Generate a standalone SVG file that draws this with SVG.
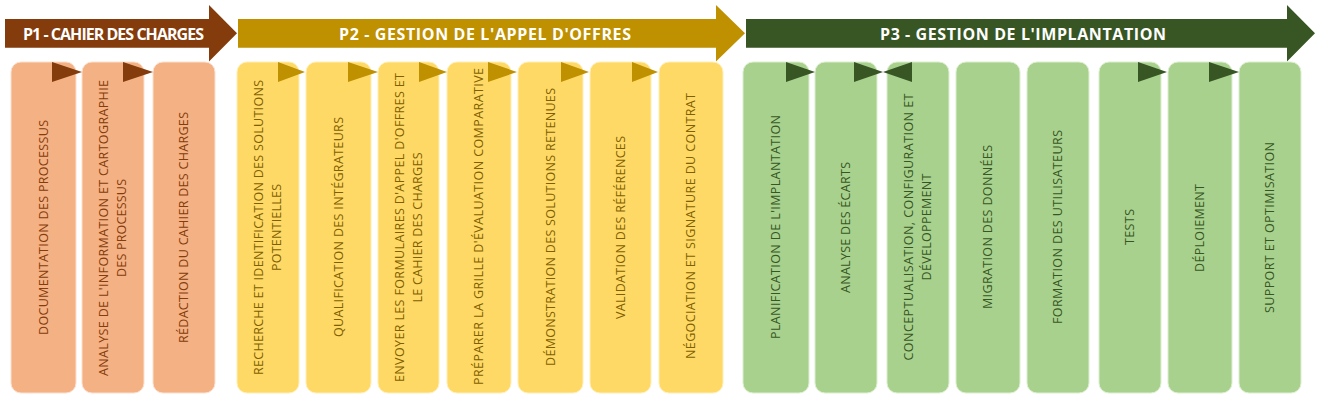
<svg xmlns="http://www.w3.org/2000/svg" width="1320" height="396" viewBox="0 0 1320 396">
<style>
.hd{font-family:"Open Sans","Liberation Sans",sans-serif;font-weight:bold;font-size:16px;fill:#ffffff;}
.t{font-family:"Open Sans","Liberation Sans",sans-serif;font-size:12.5px;text-anchor:middle;}
.b1{fill:#F4B183;stroke:#FBE0CF;stroke-width:1;}
.b2{fill:#FFD966;stroke:#FFEFB8;stroke-width:1;}
.b3{fill:#A9D18E;stroke:#DCEFCF;stroke-width:1;}
.t1{fill:#843C0C;}
.t2{fill:#7F6000;}
.t3{fill:#375623;}
.a1{fill:#843C0C;}
.a2{fill:#BF9000;}
.a3{fill:#375623;}
</style>
<rect width="1320" height="396" fill="#ffffff"/>
<g id="header-p1">
<polygon class="a1" points="5,19 209,19 209,5 237,33.3 209,61.5 209,47.7 5,47.7"/>
<text class="hd" x="23" y="39.5" textLength="181">P1 - CAHIER DES CHARGES</text>
</g>
<g id="header-p2">
<polygon class="a2" points="238,19 716,19 716,5 745,33.3 716,61.5 716,47.7 238,47.7"/>
<text class="hd" x="339" y="39.5" textLength="292">P2 - GESTION DE L'APPEL D'OFFRES</text>
</g>
<g id="header-p3">
<polygon class="a3" points="746,19 1287,19 1287,5 1315,33.3 1287,61.5 1287,47.7 746,47.7"/>
<text class="hd" x="880" y="39.5" textLength="286">P3 - GESTION DE L'IMPLANTATION</text>
</g>

<g id="p1-doc"><rect class="b1" x="11" y="62" width="65" height="331" rx="10"/>
<text class="t t1" transform="translate(43.5,227.5) rotate(-90)" dy=".35em" textLength="215">DOCUMENTATION DES PROCESSUS</text></g>
<g id="p1-analyse"><rect class="b1" x="82" y="62" width="62" height="331" rx="10"/>
<text class="t t1" transform="translate(113,228) rotate(-90)"><tspan x="0" y="-9" dy=".35em" textLength="296">ANALYSE DE L'INFORMATION ET CARTOGRAPHIE</tspan><tspan x="0" y="9" dy=".35em" textLength="98">DES PROCESSUS</tspan></text></g>
<g id="p1-redaction"><rect class="b1" x="153" y="62" width="62" height="331" rx="10"/>
<text class="t t1" transform="translate(184,227.5) rotate(-90)" dy=".35em" textLength="231">RÉDACTION DU CAHIER DES CHARGES</text></g>

<g id="p2-recherche"><rect class="b2" x="237" y="62" width="62" height="331" rx="10"/>
<text class="t t2" transform="translate(268,227.5) rotate(-90)"><tspan x="0" y="-9" dy=".35em" textLength="295">RECHERCHE ET IDENTIFICATION DES SOLUTIONS</tspan><tspan x="0" y="9" dy=".35em" textLength="87">POTENTIELLES</tspan></text></g>
<g id="p2-qualification"><rect class="b2" x="306" y="62" width="65" height="331" rx="10"/>
<text class="t t2" transform="translate(338.5,227) rotate(-90)" dy=".35em" textLength="220">QUALIFICATION DES INTÉGRATEURS</text></g>
<g id="p2-envoyer"><rect class="b2" x="378" y="62" width="61" height="331" rx="10"/>
<text class="t t2" transform="translate(408.5,227.5) rotate(-90)"><tspan x="0" y="-9" dy=".35em" textLength="309">ENVOYER LES FORMULAIRES D'APPEL D'OFFRES ET</tspan><tspan x="0" y="9" dy=".35em" textLength="150">LE CAHIER DES CHARGES</tspan></text></g>
<g id="p2-grille"><rect class="b2" x="447" y="62" width="64" height="331" rx="10"/>
<text class="t t2" transform="translate(479,226.5) rotate(-90)" dy=".35em" textLength="317">PRÉPARER LA GRILLE D'ÉVALUATION COMPARATIVE</text></g>
<g id="p2-demonstration"><rect class="b2" x="518" y="62" width="65" height="331" rx="10"/>
<text class="t t2" transform="translate(550.5,227) rotate(-90)" dy=".35em" textLength="278">DÉMONSTRATION DES SOLUTIONS RETENUES</text></g>
<g id="p2-validation"><rect class="b2" x="590" y="62" width="61" height="331" rx="10"/>
<text class="t t2" transform="translate(620.5,227.5) rotate(-90)" dy=".35em" textLength="183">VALIDATION DES RÉFÉRENCES</text></g>
<g id="p2-negociation"><rect class="b2" x="659" y="62" width="64" height="331" rx="10"/>
<text class="t t2" transform="translate(691,226) rotate(-90)" dy=".35em" textLength="266">NÉGOCIATION ET SIGNATURE DU CONTRAT</text></g>

<g id="p3-planification"><rect class="b3" x="743" y="62" width="66" height="331" rx="10"/>
<text class="t t3" transform="translate(776,227) rotate(-90)" dy=".35em" textLength="224">PLANIFICATION DE L'IMPLANTATION</text></g>
<g id="p3-ecarts"><rect class="b3" x="815" y="62" width="62" height="331" rx="10"/>
<text class="t t3" transform="translate(846,227.5) rotate(-90)" dy=".35em" textLength="131">ANALYSE DES ÉCARTS</text></g>
<g id="p3-conception"><rect class="b3" x="887" y="62" width="62" height="331" rx="10"/>
<text class="t t3" transform="translate(918,227) rotate(-90)"><tspan x="0" y="-9" dy=".35em" textLength="267">CONCEPTUALISATION, CONFIGURATION ET</tspan><tspan x="0" y="9" dy=".35em" textLength="107">DÉVELOPPEMENT</tspan></text></g>
<g id="p3-migration"><rect class="b3" x="956" y="62" width="64" height="331" rx="10"/>
<text class="t t3" transform="translate(988,227) rotate(-90)" dy=".35em" textLength="164">MIGRATION DES DONNÉES</text></g>
<g id="p3-formation"><rect class="b3" x="1027" y="62" width="62" height="331" rx="10"/>
<text class="t t3" transform="translate(1058,227) rotate(-90)" dy=".35em" textLength="194">FORMATION DES UTILISATEURS</text></g>
<g id="p3-tests"><rect class="b3" x="1099" y="62" width="62" height="331" rx="10"/>
<text class="t t3" transform="translate(1130,227) rotate(-90)" dy=".35em" textLength="36">TESTS</text></g>
<g id="p3-deploiement"><rect class="b3" x="1168" y="62" width="64" height="331" rx="10"/>
<text class="t t3" transform="translate(1200,228) rotate(-90)" dy=".35em" textLength="88">DÉPLOIEMENT</text></g>
<g id="p3-support"><rect class="b3" x="1239" y="62" width="62" height="331" rx="10"/>
<text class="t t3" transform="translate(1270,227.5) rotate(-90)" dy=".35em" textLength="171">SUPPORT ET OPTIMISATION</text></g>

<g id="connectors">
<polygon class="a1" points="52,62 82,72 52,82"/>
<polygon class="a1" points="123,62 153,72 123,82"/>
<polygon class="a2" points="278,62 305,72 278,82"/>
<polygon class="a2" points="348,62 378,72 348,82"/>
<polygon class="a2" points="419,62 447,72 419,82"/>
<polygon class="a2" points="488,62 517,72 488,82"/>
<polygon class="a2" points="561,62 589,72 561,82"/>
<polygon class="a2" points="632,62 658,72 632,82"/>
<polygon class="a3" points="786,62 815,72 786,82"/>
<polygon class="a3" points="854,62 883,72 854,82"/>
<polygon class="a3" points="912,62 883,72 912,82"/>
<polygon class="a3" points="1138,62 1167,72 1138,82"/>
<polygon class="a3" points="1209,62 1239,72 1209,82"/>
</g>
</svg>
